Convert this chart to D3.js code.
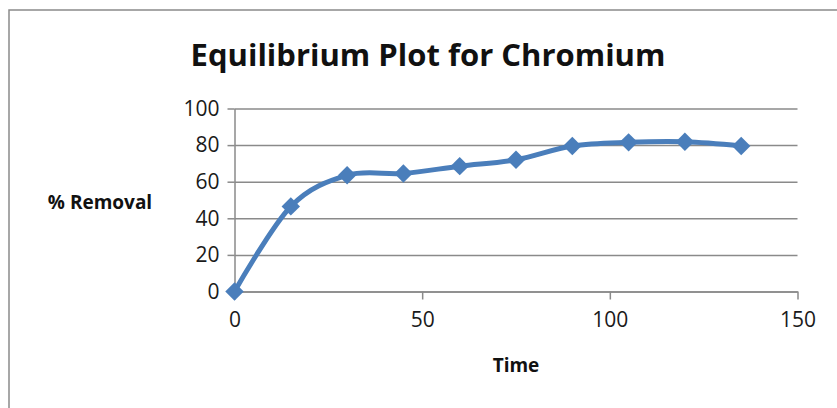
<!DOCTYPE html>
<html>
<head>
<meta charset="utf-8">
<script src="https://cdn.jsdelivr.net/npm/d3@7"></script>
<style>
  body { margin: 0; background: #fff; }
  svg { display: block; }
  .axis text { font-family: "Open Sans", sans-serif; font-size: 21px; fill: #1a1a1a; }
  .axis path, .axis line { stroke: #8a8a8a; stroke-width: 1.5px; }
</style>
</head>
<body>
<div id="chart"></div>
<script>
// data
const times = [0, 15, 30, 45, 60, 75, 90, 105, 120, 135];
const removal = [0, 46.5, 63.5, 64.5, 68.5, 72, 79.5, 81.5, 81.8, 79.5];
const xTicks = [0, 50, 100, 150];
const yTicks = [0, 20, 40, 60, 80, 100];

const w = 837;
const h = 408;

const svg = d3.select("#chart")
    .append("svg")
    .attr("width", w)
    .attr("height", h);

// outer chart frame (runs off the right / bottom of the picture)
svg.append("rect")
    .attr("x", 9)
    .attr("y", 10)
    .attr("width", 900)
    .attr("height", 500)
    .style("fill", "#fff")
    .style("stroke", "#8a8a8a")
    .style("stroke-width", "1.5px");

/* SCALES */
const xScale = d3.scaleLinear().domain([0, 150]).range([234.5, 797.5]);
const yScale = d3.scaleLinear().domain([0, 100]).range([291.5, 108.5]);

/* GRID */
svg.append("g")
    .attr("class", "axis grid")
    .attr("transform", "translate(" + xScale(0) + ",0)")
    .call(d3.axisLeft(yScale)
        .tickValues(yTicks)
        .tickSize(-(xScale(150) - xScale(0)))
        .tickFormat(""))
    .call(g => g.select(".domain").remove());

/* AXES */
const yAxis = svg.append("g")
    .attr("class", "axis")
    .attr("transform", "translate(" + xScale(0) + ",0)")
    .call(d3.axisLeft(yScale).tickValues(yTicks).tickSize(7).tickPadding(8).tickSizeOuter(0));
yAxis.selectAll("line").remove();
yAxis.selectAll(".tick").append("line").attr("x2", -7);

svg.append("g")
    .attr("class", "axis")
    .attr("transform", "translate(0," + yScale(0) + ")")
    .call(d3.axisBottom(xScale).tickValues(xTicks).tickSize(8).tickPadding(13).tickSizeOuter(0));

/* LINE */
const line = d3.line()
    .x((d, i) => xScale(times[i]))
    .y(d => yScale(d))
    .curve(d3.curveCardinal.tension(0));

svg.append("path")
    .datum(removal)
    .style("fill", "none")
    .style("stroke", "#4a7ebb")
    .style("stroke-width", "5px")
    .style("stroke-linejoin", "round")
    .attr("d", line);

/* MARKERS */
const diamond = d3.symbol(d3.symbolSquare, 170);
svg.selectAll(".marker")
    .data(removal)
    .enter()
    .append("path")
    .attr("class", "marker")
    .attr("transform", (d, i) => "translate(" + xScale(times[i]) + "," + yScale(d) + ") rotate(45)")
    .attr("d", diamond)
    .style("fill", "#4a7ebb");

/* TEXT */
svg.append("text")
    .attr("x", 428)
    .attr("y", 66)
    .style("text-anchor", "middle")
    .style("font-family", "'Open Sans', sans-serif")
    .style("font-weight", "bold")
    .style("font-size", "31px")
    .style("fill", "#111")
    .text("Equilibrium Plot for Chromium");

svg.append("text")
    .attr("x", 100)
    .attr("y", 209)
    .style("text-anchor", "middle")
    .style("font-family", "'Open Sans', sans-serif")
    .style("font-weight", "bold")
    .style("font-size", "19px")
    .style("fill", "#111")
    .text("% Removal");

svg.append("text")
    .attr("x", 516)
    .attr("y", 372)
    .style("text-anchor", "middle")
    .style("font-family", "'Open Sans', sans-serif")
    .style("font-weight", "bold")
    .style("font-size", "19px")
    .style("fill", "#111")
    .text("Time");
</script>
</body>
</html>
